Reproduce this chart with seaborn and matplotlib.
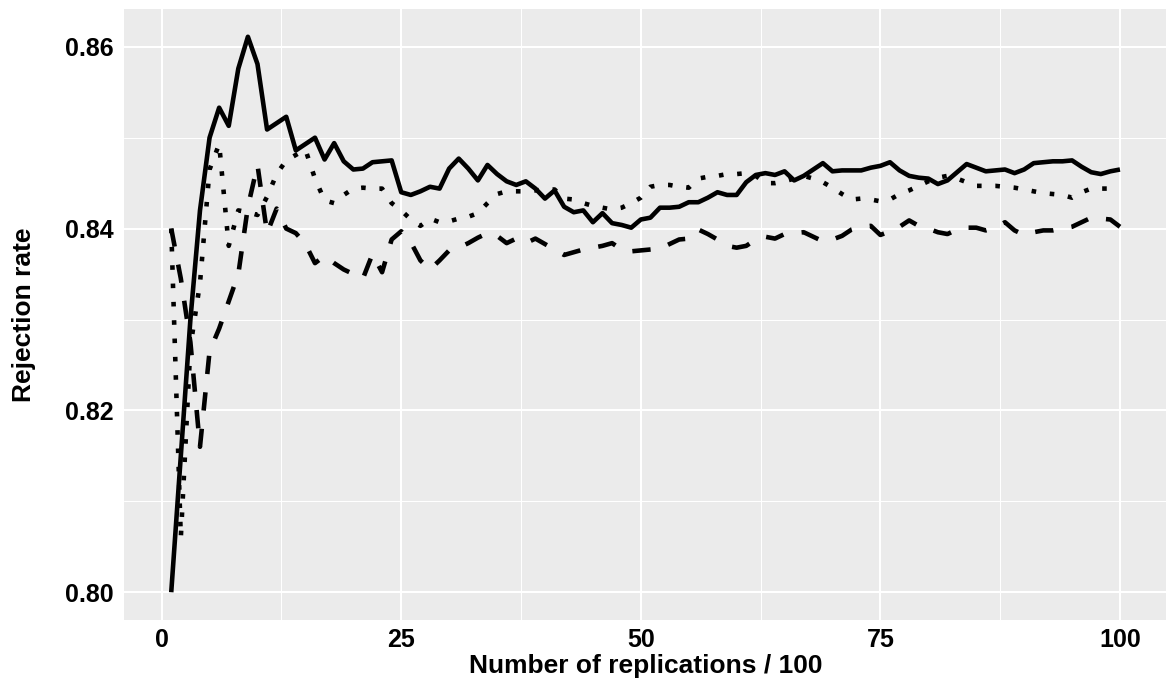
import numpy as np
import pandas as pd
import matplotlib
matplotlib.use("Agg")
import matplotlib.pyplot as plt
import seaborn as sns
from matplotlib.ticker import MultipleLocator, FixedLocator, FormatStrFormatter

# ---- data ----
replications = list(range(1, 101))

rate_solid = [
    0.8000, 0.8150, 0.8300, 0.8420, 0.8500, 0.8533, 0.8513, 0.8576, 0.8611, 0.8581,
    0.8509, 0.8516, 0.8523, 0.8486, 0.8493, 0.8500, 0.8476, 0.8494, 0.8474, 0.8465,
    0.8466, 0.8473, 0.8474, 0.8475, 0.8440, 0.8437, 0.8441, 0.8446, 0.8444, 0.8466,
    0.8477, 0.8466, 0.8453, 0.8470, 0.8460, 0.8452, 0.8448, 0.8452, 0.8444, 0.8433,
    0.8442, 0.8424, 0.8418, 0.8420, 0.8407, 0.8417, 0.8406, 0.8404, 0.8401, 0.8410,
    0.8412, 0.8423, 0.8423, 0.8424, 0.8429, 0.8429, 0.8434, 0.8440, 0.8437, 0.8437,
    0.8451, 0.8459, 0.8461, 0.8459, 0.8463, 0.8453, 0.8458, 0.8465, 0.8472, 0.8463,
    0.8464, 0.8464, 0.8464, 0.8467, 0.8469, 0.8473, 0.8464, 0.8458, 0.8456, 0.8455,
    0.8449, 0.8453, 0.8462, 0.8471, 0.8467, 0.8463, 0.8464, 0.8465, 0.8461, 0.8465,
    0.8472, 0.8473, 0.8474, 0.8474, 0.8475, 0.8468, 0.8462, 0.8460, 0.8463, 0.8465,
]

rate_dotted = [
    0.8400, 0.8060, 0.8270, 0.8340, 0.8465, 0.8493, 0.8381, 0.8420, 0.8418, 0.8415,
    0.8435, 0.8460, 0.8475, 0.8481, 0.8487, 0.8455, 0.8431, 0.8428, 0.8437, 0.8444,
    0.8445, 0.8444, 0.8444, 0.8428, 0.8420, 0.8410, 0.8403, 0.8411, 0.8407, 0.8408,
    0.8411, 0.8413, 0.8417, 0.8428, 0.8438, 0.8441, 0.8441, 0.8441, 0.8442, 0.8443,
    0.8443, 0.8433, 0.8432, 0.8428, 0.8425, 0.8423, 0.8421, 0.8423, 0.8428, 0.8434,
    0.8446, 0.8448, 0.8448, 0.8446, 0.8445, 0.8455, 0.8457, 0.8458, 0.8460, 0.8460,
    0.8461, 0.8458, 0.8450, 0.8450, 0.8452, 0.8455, 0.8458, 0.8455, 0.8451, 0.8445,
    0.8438, 0.8432, 0.8433, 0.8432, 0.8430, 0.8432, 0.8438, 0.8442, 0.8447, 0.8452,
    0.8456, 0.8458, 0.8455, 0.8451, 0.8447, 0.8447, 0.8447, 0.8446, 0.8445, 0.8443,
    0.8441, 0.8439, 0.8438, 0.8437, 0.8434, 0.8440, 0.8444, 0.8444, 0.8444, 0.8445,
]

rate_dashed = [
    0.8400, 0.8345, 0.8275, 0.8160, 0.8265, 0.8290, 0.8320, 0.8350, 0.8424, 0.8470,
    0.8395, 0.8422, 0.8400, 0.8395, 0.8383, 0.8362, 0.8370, 0.8362, 0.8355, 0.8350,
    0.8345, 0.8372, 0.8352, 0.8388, 0.8397, 0.8385, 0.8365, 0.8355, 0.8365, 0.8376,
    0.8379, 0.8384, 0.8390, 0.8395, 0.8392, 0.8384, 0.8389, 0.8384, 0.8389, 0.8383,
    0.8377, 0.8371, 0.8374, 0.8377, 0.8379, 0.8381, 0.8384, 0.8377, 0.8375, 0.8376,
    0.8377, 0.8378, 0.8383, 0.8388, 0.8389, 0.8399, 0.8394, 0.8388, 0.8381, 0.8379,
    0.8381, 0.8388, 0.8391, 0.8389, 0.8394, 0.8395, 0.8396, 0.8391, 0.8386, 0.8388,
    0.8392, 0.8399, 0.8402, 0.8403, 0.8393, 0.8397, 0.8402, 0.8409, 0.8403, 0.8400,
    0.8396, 0.8394, 0.8399, 0.8401, 0.8401, 0.8398, 0.8401, 0.8407, 0.8398, 0.8393,
    0.8396, 0.8398, 0.8398, 0.8400, 0.8402, 0.8407, 0.8412, 0.8411, 0.8410, 0.8402,
]

series_names = ["Series 1", "Series 2", "Series 3"]
x_ticks = [0, 25, 50, 75, 100]
y_ticks = [0.80, 0.82, 0.84, 0.86]
x_title = "Number of replications / 100"
y_title = "Rejection rate"

df = pd.concat([
    pd.DataFrame({"rep": replications, "rate": rate_solid, "series": series_names[0]}),
    pd.DataFrame({"rep": replications, "rate": rate_dotted, "series": series_names[1]}),
    pd.DataFrame({"rep": replications, "rate": rate_dashed, "series": series_names[2]}),
], ignore_index=True)

# ---- style ----
sns.set_theme(style="darkgrid")
plt.rcParams["font.family"] = ["Liberation Sans", "DejaVu Sans"]
plt.rcParams["font.weight"] = "bold"

W, H = 1166, 686
fig = plt.figure(figsize=(W / 100, H / 100), dpi=100)
left_px, right_px, top_px, bottom_px = 123.8, 1167.4, 9, 620
ax = fig.add_axes([left_px / W, 1 - bottom_px / H,
                   (right_px - left_px) / W, (bottom_px - top_px) / H])
ax.set_facecolor("#EBEBEB")

sns.lineplot(
    data=df, x="rep", y="rate", style="series",
    dashes={series_names[0]: "", series_names[1]: (1, 3), series_names[2]: (4, 4)},
    color="black", linewidth=3.3, legend=False, ax=ax,
    estimator=None, sort=False,
)
for line in ax.get_lines():
    line.set_dash_capstyle("butt")
    line.set_solid_capstyle("butt")
    line.set_solid_joinstyle("round")

# ggplot-like expansion
xmin, xmax = min(replications), max(replications)
allv = rate_solid + rate_dotted + rate_dashed
ymin, ymax = min(allv), max(allv)
ax.set_xlim(xmin - 0.05 * (xmax - xmin), xmax + 0.05 * (xmax - xmin))
ax.set_ylim(ymin - 0.05 * (ymax - ymin), ymax + 0.05 * (ymax - ymin))

ax.xaxis.set_major_locator(FixedLocator(x_ticks))
ax.xaxis.set_minor_locator(MultipleLocator(12.5))
ax.yaxis.set_major_locator(FixedLocator(y_ticks))
ax.yaxis.set_minor_locator(MultipleLocator(0.01))
ax.yaxis.set_major_formatter(FormatStrFormatter("%.2f"))

ax.grid(which="major", color="white", linewidth=1.5)
ax.grid(which="minor", color="white", linewidth=0.75)
ax.set_axisbelow(True)
for s in ax.spines.values():
    s.set_visible(False)

ax.tick_params(axis="both", which="major", length=4, width=1, color="#333333",
               labelsize=18, labelcolor="black", pad=3)
ax.tick_params(axis="x", which="major", pad=2)
ax.tick_params(axis="both", which="minor", length=0)
for lab in ax.get_xticklabels() + ax.get_yticklabels():
    lab.set_fontweight("bold")

ax.set_xlabel(x_title, fontsize=19, fontweight="bold", color="black", labelpad=1)
ax.set_ylabel(y_title, fontsize=19, fontweight="bold", color="black", labelpad=21)

fig.savefig("out.png", dpi=100)
